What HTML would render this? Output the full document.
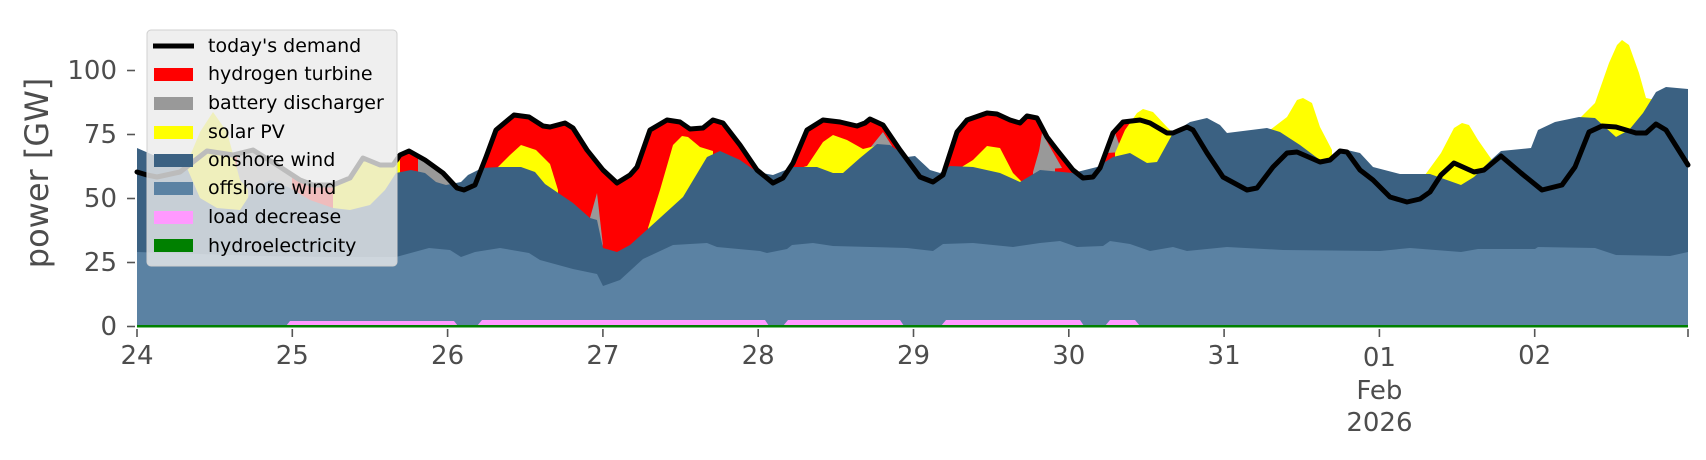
<!DOCTYPE html>
<html><head><meta charset="utf-8"><style>
html,body{margin:0;padding:0;background:#fff;}
svg{display:block;}
text{font-family:"DejaVu Sans","Liberation Sans",sans-serif;}
</style></head><body>
<svg width="1706" height="460" viewBox="0 0 1706 460" xmlns="http://www.w3.org/2000/svg">
<!-- red base (hydrogen) under demand -->
<polygon fill="#ff0000" points="137,172 147,175 157,177 180,172 207,151 233,155 253,150 277,165 300,180 313,185 333,185 350,178 363,158 380,165 393,165 400,155 409,151 425,160 443,173 457,188 464,190 475,185 486,157 496,130 514,115 529,117 543,126 550,127 565,123 573,128 587,150 603,170 617,183 630,175 637,167 650,130 667,120 680,122 690,129 703,128 713,120 723,123 740,145 757,170 773,183 783,178 793,163 807,130 823,120 840,122 857,126 865,123 870,119 883,125 900,150 920,177 933,182 943,175 957,132 967,120 987,113 997,114 1010,120 1020,123 1027,116 1037,118 1047,137 1057,150 1073,170 1083,178 1093,177 1100,168 1113,133 1123,122 1140,120 1150,123 1167,133 1173,133 1187,127 1193,130 1207,153 1223,177 1247,190 1257,188 1273,167 1287,153 1297,152 1320,162 1330,160 1340,151 1347,152 1360,170 1373,180 1390,197 1407,202 1420,199 1430,192 1441,175 1454,163 1474,172 1484,170 1501,156 1521,173 1542,190 1562,185 1575,167 1589,132 1602,126 1616,127 1636,133 1646,133 1656,124 1666,130 1688,165 1688,327 137,327"/>
<!-- battery -->
<g fill="#999999">
<polygon points="237,156 253,150 277,165 292,177 292,327 237,327"/>
<polygon points="418,157 425,160 443,173 452,182 452,327 418,327"/>
<polygon points="590,218 597,193 603,246"/>
<polygon points="870,148 883,132 892,146 892,327 870,327"/>
<polygon points="1033,172 1043,137 1055,160 1055,327 1033,327"/>
<polygon points="1036,170 1042,133 1062,168"/>
<polygon points="1107,153 1115,133 1122,152"/>
</g>
<!-- solar -->
<g fill="#ffff00">
<polygon points="185,168 200,132 213,112 227,132 240,180 248,190 248,327 185,327"/>
<polygon points="333,187 350,180 363,160 380,167 393,167 400,160 400,327 333,327"/>
<polygon points="497,168 510,155 521,145 536,150 550,164 558,190 558,327 497,327"/>
<polygon points="648,228 660,190 673,145 682,136 688,137 700,147 713,151 713,327 648,327"/>
<polygon points="800,168 807,166 823,142 833,135 847,140 863,149 875,146 875,327 800,327"/>
<polygon points="960,168 973,160 987,146 1000,148 1013,173 1022,182 1022,327 960,327"/>
<polygon points="1115,153 1125,130 1137,113 1143,109 1153,112 1167,127 1175,135 1175,327 1115,327"/>
<polygon points="1265,130 1270,130 1287,117 1297,100 1303,98 1312,103 1320,127 1332,150 1332,327 1265,327"/>
<polygon points="1425,175 1441,153 1454,128 1462,123 1469,125 1478,140 1492,160 1492,327 1425,327"/>
<polygon points="1580,118 1595,103 1609,63 1617,45 1622,40 1629,45 1639,73 1646,98 1656,100 1656,327 1580,327"/>
</g>
<!-- onshore -->
<polygon fill="#3b6182" points="137,148 160,158 187,168 200,198 217,208 240,210 253,190 270,180 290,188 310,200 333,208 350,210 370,205 385,190 396,173 411,170 425,173 436,182 446,185 461,182 468,175 482,168 500,167 521,167 535,172 545,184 573,203 590,218 597,220 603,248 617,252 630,245 650,227 683,197 707,157 720,151 740,160 757,172 773,175 793,167 817,167 833,173 843,173 860,158 877,144 890,145 907,157 915,156 930,170 940,173 950,166 973,167 1000,173 1020,182 1040,170 1073,173 1097,167 1113,157 1130,153 1147,163 1157,162 1173,133 1190,122 1207,118 1220,125 1227,133 1267,128 1280,132 1300,145 1320,160 1333,158 1347,150 1360,153 1373,167 1400,174 1430,174 1461,185 1474,177 1491,160 1501,151 1531,148 1538,130 1555,122 1579,117 1595,118 1616,137 1629,130 1643,113 1656,92 1666,87 1688,89 1688,327 137,327"/>
<!-- offshore -->
<polygon fill="#5b82a3" points="137,252 200,254 260,256 330,257 396,257 429,248 450,250 461,257 475,252 500,248 529,253 540,260 573,269 597,274 603,286 620,280 643,259 673,245 707,243 717,247 760,251 767,253 787,249 792,245 813,243 833,246 907,248 933,251 943,244 973,243 1013,247 1040,243 1060,241 1077,247 1103,246 1110,241 1130,244 1150,251 1173,247 1187,251 1227,247 1283,250 1380,251 1410,248 1461,252 1478,249 1535,249 1538,247 1595,248 1616,255 1670,256 1688,252 1688,327 137,327"/>
<!-- load decrease -->
<g fill="#ff99ff">
<polygon points="286,326 290,321 454,321 458,326"/>
<polygon points="477,326 482,320 765,320 769,326"/>
<polygon points="783,326 788,320 900,320 904,326"/>
<polygon points="941,326 946,320 1080,320 1084,326"/>
<polygon points="1105,326 1110,320 1135,320 1140,326"/>
</g>
<!-- hydro -->
<rect x="137" y="325" width="1551" height="2.5" fill="#008000"/>
<!-- demand -->
<polyline fill="none" stroke="#000" stroke-width="5" stroke-linejoin="round" stroke-linecap="round" points="137,172 147,175 157,177 180,172 207,151 233,155 253,150 277,165 300,180 313,185 333,185 350,178 363,158 380,165 393,165 400,155 409,151 425,160 443,173 457,188 464,190 475,185 486,157 496,130 514,115 529,117 543,126 550,127 565,123 573,128 587,150 603,170 617,183 630,175 637,167 650,130 667,120 680,122 690,129 703,128 713,120 723,123 740,145 757,170 773,183 783,178 793,163 807,130 823,120 840,122 857,126 865,123 870,119 883,125 900,150 920,177 933,182 943,175 957,132 967,120 987,113 997,114 1010,120 1020,123 1027,116 1037,118 1047,137 1057,150 1073,170 1083,178 1093,177 1100,168 1113,133 1123,122 1140,120 1150,123 1167,133 1173,133 1187,127 1193,130 1207,153 1223,177 1247,190 1257,188 1273,167 1287,153 1297,152 1320,162 1330,160 1340,151 1347,152 1360,170 1373,180 1390,197 1407,202 1420,199 1430,192 1441,175 1454,163 1474,172 1484,170 1501,156 1521,173 1542,190 1562,185 1575,167 1589,132 1602,126 1616,127 1636,133 1646,133 1656,124 1666,130 1688,165"/>
<!-- y axis ticks -->
<g stroke="#555" stroke-width="1.6">
<line x1="127" y1="326.5" x2="135" y2="326.5"/>
<line x1="127" y1="262.5" x2="135" y2="262.5"/>
<line x1="127" y1="198.5" x2="135" y2="198.5"/>
<line x1="127" y1="134.5" x2="135" y2="134.5"/>
<line x1="127" y1="70.5" x2="135" y2="70.5"/>
</g>
<g fill="#4d4d4d" font-size="26" text-anchor="end" dominant-baseline="central">
<text x="117" y="327">0</text>
<text x="117" y="263">25</text>
<text x="117" y="199">50</text>
<text x="117" y="135">75</text>
<text x="117" y="71">100</text>
</g>
<text x="37" y="173" fill="#4d4d4d" font-size="32" text-anchor="middle" dominant-baseline="central" transform="rotate(-90 37 173)">power [GW]</text>
<!-- x ticks -->
<g stroke="#555" stroke-width="1.6">
<line x1="137" y1="329" x2="137" y2="337"/>
<line x1="292.3" y1="329" x2="292.3" y2="337"/>
<line x1="447.6" y1="329" x2="447.6" y2="337"/>
<line x1="602.9" y1="329" x2="602.9" y2="337"/>
<line x1="758.2" y1="329" x2="758.2" y2="337"/>
<line x1="913.5" y1="329" x2="913.5" y2="337"/>
<line x1="1068.8" y1="329" x2="1068.8" y2="337"/>
<line x1="1224.1" y1="329" x2="1224.1" y2="337"/>
<line x1="1379.4" y1="329" x2="1379.4" y2="337"/>
<line x1="1534.7" y1="329" x2="1534.7" y2="337"/>
<line x1="1688" y1="329" x2="1688" y2="337"/>
</g>
<g fill="#4d4d4d" font-size="26" text-anchor="middle" dominant-baseline="central">
<text x="137" y="356">24</text>
<text x="292.3" y="356">25</text>
<text x="447.6" y="356">26</text>
<text x="602.9" y="356">27</text>
<text x="758.2" y="356">28</text>
<text x="913.5" y="356">29</text>
<text x="1068.8" y="356">30</text>
<text x="1224.1" y="356">31</text>
<text x="1379.4" y="358">01</text>
<text x="1379.4" y="391">Feb</text>
<text x="1379.4" y="423">2026</text>
<text x="1534.7" y="356">02</text>
</g>
<!-- legend -->
<rect x="147" y="30" width="250" height="236" rx="4" fill="#ebebeb" fill-opacity="0.8" stroke="#d0d0d0" stroke-width="1"/>
<line x1="153" y1="46" x2="194" y2="46" stroke="#000" stroke-width="5"/>
<rect x="154" y="68" width="39" height="13" fill="#ff0000"/>
<rect x="154" y="97" width="39" height="13" fill="#999999"/>
<rect x="154" y="126" width="39" height="13" fill="#ffff00"/>
<rect x="154" y="154" width="39" height="13" fill="#3b6182"/>
<rect x="154" y="182" width="39" height="13" fill="#5b82a3"/>
<rect x="154" y="211" width="39" height="13" fill="#ff99ff"/>
<rect x="154" y="239" width="39" height="13" fill="#008000"/>
<g fill="#000" font-size="19" dominant-baseline="central">
<text x="208" y="46">today's demand</text>
<text x="208" y="74">hydrogen turbine</text>
<text x="208" y="103">battery discharger</text>
<text x="208" y="132">solar PV</text>
<text x="208" y="160">onshore wind</text>
<text x="208" y="188">offshore wind</text>
<text x="208" y="217">load decrease</text>
<text x="208" y="246">hydroelectricity</text>
</g>
</svg>
</body></html>
